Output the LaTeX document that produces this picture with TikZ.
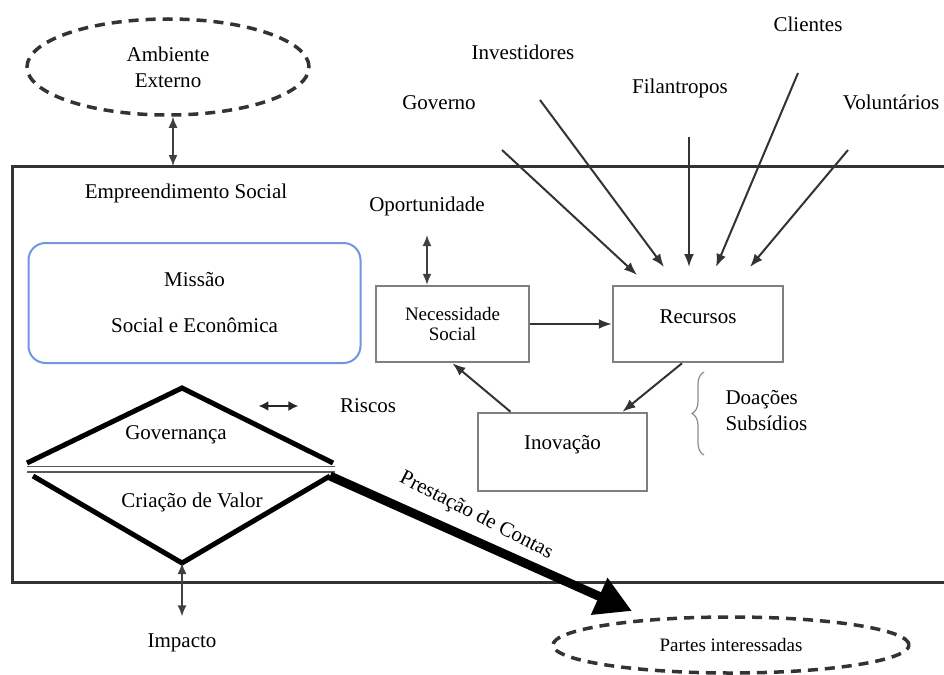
\documentclass[tikz,border=0pt]{standalone}
\usepackage{fontspec}
\setmainfont{Liberation Serif}
\usetikzlibrary{arrows.meta}
\usetikzlibrary{shapes.geometric}
\usetikzlibrary{decorations.pathreplacing}
\definecolor{missblue}{RGB}{112,150,222}

\begin{document}
\begin{tikzpicture}
[x=1pt,y=-1pt,%
  every node/.style={font=\fontsize{21}{26}\selectfont,text=black},%
  dashcloud/.style={ellipse,draw=black!80,line width=3.5pt,dash pattern=on 10pt off 7pt,align=center},%
  box/.style={rectangle,draw=black!50,line width=2.5pt,align=center},%
  feed/.style={-{Latex[length=13pt,width=10pt]},line width=2pt,black!80},%
  twoway/.style={{Latex[length=11pt,width=9pt]}-{Latex[length=11pt,width=9pt]},line width=1.5pt,black!75},%
  wedge/.style={line width=5pt,black}]
\useasboundingbox (0,0) rectangle (944,674);
\coordinate (fr-nw) at (12,166);
\coordinate (fr-ne) at (944,166);
\coordinate (fr-sw) at (12,582);
\coordinate (fr-se) at (944,582);
\draw[black!80,line width=3pt] (fr-ne) -- (fr-nw) -- (fr-sw) -- (fr-se);
\node[dashcloud,minimum width=282pt,minimum height=96pt] (amb) at (168,67) {Ambiente\\Externo};
\draw[twoway] ([xshift=5pt]amb.south) -- ([xshift=5pt]amb.south |- fr-nw);
\node (emp) at (186,193) {Empreendimento Social};
\node[draw=missblue,line width=2pt,rounded corners=17pt,minimum width=332pt,minimum height=120pt,align=center] (missao) at (194.5,303) {Missão\\[20pt]Social e Econômica};
\node[box,minimum width=153pt,minimum height=76pt,font=\fontsize{19}{20}\selectfont] (nec) at (452.5,324) {Necessidade\\Social};
\node[box,minimum width=170pt,minimum height=76pt,text depth=14pt] (rec) at (698,324) {Recursos};
\node[box,minimum width=169pt,minimum height=78pt,text depth=20pt] (inov) at (562.5,452) {Inovação};
\draw[feed] (nec) -- (rec);
\draw[feed] ([xshift=-16pt]rec.south) -- ([xshift=60pt]inov.north);
\draw[feed] ([xshift=-52pt]inov.north) -- (nec.south);
\node (oport) at (427,206) {Oportunidade};
\draw[twoway] ([yshift=-16pt]oport.south) -- (oport.south |- nec.north);
\draw[decorate,decoration={brace,amplitude=12pt},black!45,line width=1.2pt] (704,455) -- (704,372);
\node[align=left,anchor=west] (fontes) at (722,411) {Doações\\Subsídios};
\node (governo) at (439,103) {Governo};
\node (invest) at (523,52) {Investidores};
\node (filan) at (680,88) {Filantropos};
\node (clientes) at (808,24) {Clientes};
\node (volunt) at (891,102) {Voluntários};
\coordinate (gov-a) at (502,150);
\coordinate (gov-b) at (637,275);
\coordinate (inv-a) at (540,100);
\coordinate (inv-b) at (664,267);
\coordinate (fil-a) at (689,137);
\coordinate (fil-b) at (689,267);
\coordinate (cli-a) at (798,73);
\coordinate (cli-b) at (716,267);
\coordinate (vol-a) at (848,150);
\coordinate (vol-b) at (750,267);
\draw[feed] (gov-a) -- (gov-b);
\draw[feed] (inv-a) -- (inv-b);
\draw[feed] (fil-a) -- (fil-b);
\draw[feed] (cli-a) -- (cli-b);
\draw[feed] (vol-a) -- (vol-b);
\coordinate (d-top) at (182,388);
\coordinate (d-left) at (27,463);
\coordinate (d-right) at (333,463);
\coordinate (v-left) at (33,476);
\coordinate (v-right) at (330,476);
\coordinate (d-bot) at (182,563);
\draw[wedge] (d-left) -- (d-top) -- (d-right);
\draw[wedge] (v-left) -- (d-bot) -- (v-right);
\draw[line width=1.5pt,black!65,double=white,double distance=4pt] (27,469) -- (335,469);
\node (gov) at (176,435) {Governança};
\node (valor) at (192,502) {Criação de Valor};
\node (riscos) at (368,406) {Riscos};
\draw[{Latex[length=10pt,width=10pt]}-{Latex[length=10pt,width=10pt]},line width=2.5pt,black!85] ([xshift=-78pt]riscos.west) -- ([xshift=-38pt]riscos.west);
\node (impacto) at (182,643) {Impacto};
\draw[twoway] (d-bot) -- ([yshift=14pt]impacto.north);
\node[dashcloud,minimum width=356pt,minimum height=56pt,font=\fontsize{19}{20}\selectfont,text depth=0pt] (partes) at (731,645) {Partes interessadas};
\coordinate (acc) at (632,611);
\draw[-{Triangle[length=36pt,width=38pt]},line width=9pt,black] (v-right) -- (acc)
  node[pos=0.45,above=6pt,sloped,rotate=-3] {Prestação de Contas};
\end{tikzpicture}
\end{document}
